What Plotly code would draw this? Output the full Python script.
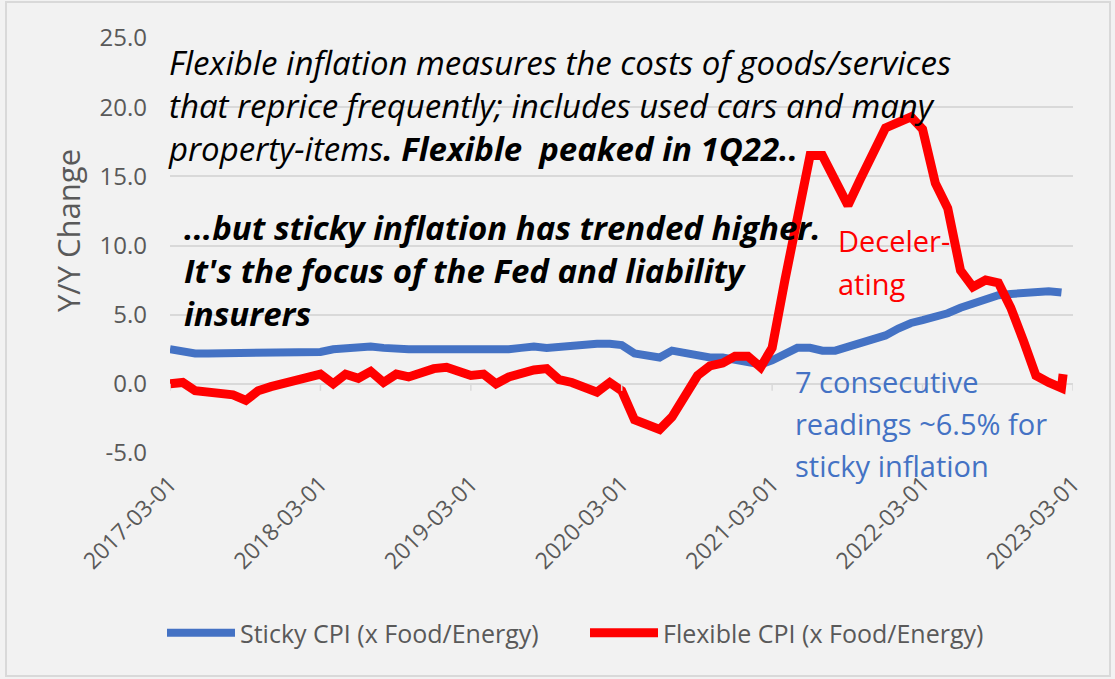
import pandas as pd
import plotly.graph_objects as go

# ---------------- data ----------------
months = pd.date_range("2017-03-01", "2023-02-01", freq="MS")

sticky = [2.5, 2.3, 2.2, 2.2, 2.2, 2.2, 2.3, 2.2, 2.2, 2.2, 2.2, 2.2,
          2.3, 2.5, 2.6, 2.6, 2.7, 2.6, 2.5, 2.5, 2.5, 2.5, 2.5, 2.4,
          2.4, 2.4, 2.5, 2.5, 2.6, 2.7, 2.6, 2.7, 2.8, 2.9, 2.9, 2.9,
          2.8, 2.2, 2.0, 1.9, 2.4, 2.2, 2.1, 1.9, 1.9, 1.7, 1.5, 1.4,
          1.7, 2.2, 2.6, 2.6, 2.4, 2.4, 2.7, 3.0, 3.2, 3.5, 4.0, 4.4,
          4.6, 4.8, 5.1, 5.5, 5.8, 6.1, 6.4, 6.5, 6.6, 6.7, 6.7, 6.6]

flexible = [0.0, 0.1, -0.5, -0.6, -0.8, -0.8, -1.2, -0.5, -0.2, 0.0, 0.3, 0.4,
            0.7, 0.0, 0.7, 0.4, 0.9, 0.1, 0.7, 0.5, 0.8, 1.1, 1.2, 0.9,
            0.6, 0.7, 0.0, 0.5, 0.8, 1.0, 1.1, 0.3, 0.1, -0.3, -0.6, 0.1,
            -0.5, -2.6, -3.0, -3.3, -2.4, -0.9, 0.6, 1.3, 1.5, 2.0, 2.0, 1.2,
            2.6, 7.5, 12.0, 16.5, 16.5, 14.7, 12.9, 14.8, 16.6, 18.5, 18.9, 19.3,
            18.4, 14.5, 12.7, 8.2, 7.0, 7.5, 7.3, 5.5, 3.1, 0.6, 0.1, -0.3, 0.7]
flex_dates = list(months) + [pd.Timestamp("2023-02-05")]

tick_vals = ["2017-03-01", "2018-03-01", "2019-03-01", "2020-03-01",
             "2021-03-01", "2022-03-01", "2023-03-01"]
y_ticks = [-5, 0, 5, 10, 15, 20, 25]

series_names = ["Sticky CPI (x Food/Energy)", "Flexible CPI (x Food/Energy)"]
y_title = "Y/Y Change"

note_flexible = ("Flexible inflation measures the costs of goods/services<br>"
                 "that reprice frequently; includes used cars and many<br>"
                 "property-items<b>. Flexible  peaked in 1Q22..</b>")
note_sticky = ("<b>...but sticky inflation has trended higher.<br>"
               "It's the focus of the Fed and liability<br>"
               "insurers</b>")
note_decel = ["Deceler-", "ating"]
note_readings = ["7 consecutive", "readings ~6.5% for", "sticky inflation"]

# ---------------- layout geometry (pixels) ----------------
W, H = 1115, 679
L, R, T, B = 170, 1073, 38, 453


def px(x):
    return (x - L) / (R - L)


def py(y):
    return (B - y) / (B - T)


BLUE = "#4472C4"
RED = "#FF0000"
GRAY = "#595959"
GRID = "#D9D9D9"
FONT = "Open Sans"

fig = go.Figure()
fig.add_trace(go.Scatter(x=months, y=sticky, mode="lines", name=series_names[0],
                         line=dict(color=BLUE, width=8)))
fig.add_trace(go.Scatter(x=flex_dates, y=flexible, mode="lines", name=series_names[1],
                         line=dict(color=RED, width=9)))

shapes = [
    dict(type="rect", xref="paper", yref="paper",
         x0=px(6), x1=px(1110), y0=py(676), y1=py(2),
         line=dict(color=GRID, width=2), fillcolor="rgba(0,0,0,0)", layer="below"),
]
for tv in tick_vals:
    shapes.append(dict(type="line", xref="x", yref="y", x0=tv, x1=tv,
                       ysizemode="pixel", yanchor=0, y0=0, y1=-7,
                       line=dict(color=GRID, width=1.5)))

ann = []


def add_text(text, x, y, size, color="black", italic=False, yanchor="middle"):
    ann.append(dict(text=text, xref="paper", yref="paper", x=px(x), y=py(y),
                    xanchor="left", yanchor=yanchor, align="left", showarrow=False,
                    font=dict(family=FONT, size=size, color=color,
                              style="italic" if italic else "normal")))


add_text(note_flexible, 166, 106, 33, italic=True, yanchor="middle")
add_text(note_sticky, 182, 203, 33, italic=True, yanchor="top")
for i, t in enumerate(note_decel):
    add_text(t, 836, 240 + 43 * i, 29, color=RED)
for i, t in enumerate(note_readings):
    add_text(t, 793, 381 + 42 * i, 29, color=BLUE)

# y-axis title placed as rotated text
ann.append(dict(text=y_title, xref="paper", yref="paper", x=px(68), y=py(231),
                xanchor="center", yanchor="middle", textangle=-90, showarrow=False,
                font=dict(family=FONT, size=31, color=GRAY)))

fig.update_layout(
    width=W, height=H,
    margin=dict(l=L, r=W - R, t=T, b=H - B, autoexpand=False),
    paper_bgcolor="#F2F2F2", plot_bgcolor="#F2F2F2",
    font=dict(family=FONT, color=GRAY),
    showlegend=True,
    legend=dict(orientation="h", x=px(162), xanchor="left", y=py(633), yanchor="middle",
                font=dict(size=25, color=GRAY), bgcolor="rgba(0,0,0,0)",
                itemwidth=68, entrywidth=340, entrywidthmode="pixels", tracegroupgap=0),
    shapes=shapes,
    annotations=ann,
    xaxis=dict(type="date", range=["2017-03-01", "2023-03-01"],
               tickvals=tick_vals, ticktext=tick_vals, tickangle=-45,
               tickfont=dict(size=23, color=GRAY), showgrid=False, zeroline=False,
               showline=False, ticks="", ticklabelstandoff=12, automargin=False),
    yaxis=dict(range=[-5, 25], tickvals=y_ticks,
               ticktext=[f"{v:.1f}" for v in y_ticks],
               tickfont=dict(size=24, color=GRAY), showgrid=True, gridcolor=GRID,
               gridwidth=1.5, zeroline=True, zerolinecolor=GRID, zerolinewidth=2,
               showline=False, ticks="", ticklabelstandoff=22, automargin=False),
)

fig.write_html("out.html", config={"displayModeBar": False},
               post_script="document.body.style.margin='0px';")
